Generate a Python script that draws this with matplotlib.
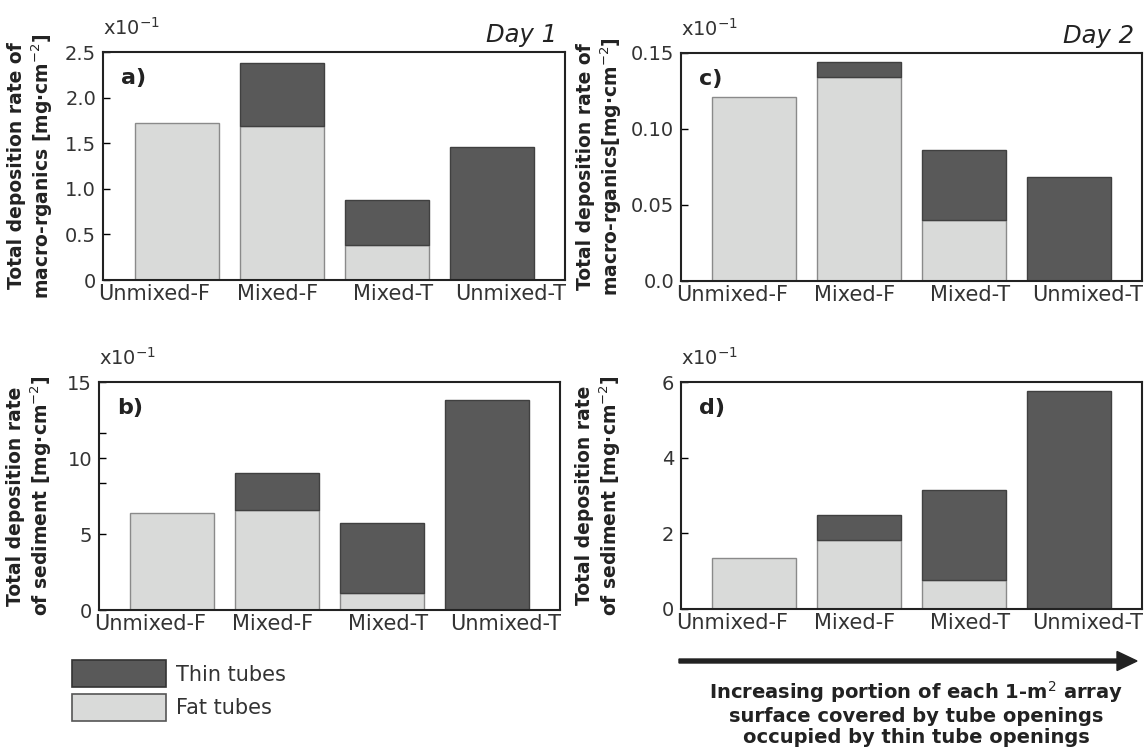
import numpy as np
import matplotlib
matplotlib.use('Agg')
import matplotlib.pyplot as plt
from matplotlib.patches import Patch, FancyArrow

plt.rcParams['font.family'] = 'DejaVu Sans'
plt.rcParams['mathtext.fontset'] = 'dejavusans'

categories = ['Unmixed-F', 'Mixed-F', 'Mixed-T', 'Unmixed-T']

# day 1, macro-organics (x10^-1 mg cm^-2)
org1_fat = [1.72, 1.69, 0.38, 0.0]
org1_thin = [0.0, 0.69, 0.50, 1.46]
# day 2, macro-organics
org2_fat = [0.121, 0.134, 0.040, 0.0]
org2_thin = [0.0, 0.010, 0.046, 0.0685]
# day 1, sediment
sed1_fat = [6.41, 6.61, 1.12, 0.0]
sed1_thin = [0.0, 2.39, 4.61, 13.84]
# day 2, sediment
sed2_fat = [1.34, 1.83, 0.76, 0.0]
sed2_thin = [0.0, 0.66, 2.38, 5.76]

dark = '#595959'
light = '#d9dad9'
txt = '#333333'

W, H = 1146, 747
fig = plt.figure(figsize=(W / 100, H / 100), dpi=100)


def box(l, r, t, b):
    return [l / W, 1 - b / H, (r - l) / W, (b - t) / H]


ax_a = fig.add_axes(box(103, 565, 52, 280))
ax_c = fig.add_axes(box(681, 1142, 53, 281))
ax_b = fig.add_axes(box(99, 560, 382, 610))
ax_d = fig.add_axes(box(681, 1142, 382, 609))

x = np.arange(len(categories))
label_shift = np.array([-0.21, -0.04, 0.06, 0.18])

lab_org = 'Total deposition rate of\nmacro-rganics [mg·cm$^{-2}$]'
lab_org2 = 'Total deposition rate of\nmacro-rganics[mg·cm$^{-2}$]'
lab_sed = 'Total deposition rate\nof sediment [mg·cm$^{-2}$]'

panels = [
    (ax_a, org1_fat, org1_thin, 2.5, [0, 0.5, 1.0, 1.5, 2.0, 2.5],
     ['0', '0.5', '1.0', '1.5', '2.0', '2.5'], lab_org, 'a)', 'Day 1', -0.156),
    (ax_c, org2_fat, org2_thin, 0.15, [0, 0.05, 0.10, 0.15],
     ['0.0', '0.05', '0.10', '0.15'], lab_org2, 'c)', 'Day 2', -0.176),
    (ax_b, sed1_fat, sed1_thin, 15, [0, 5, 10, 15],
     ['0', '5', '10', '15'], lab_sed, 'b)', None, -0.15),
    (ax_d, sed2_fat, sed2_thin, 6, [0, 2, 4, 6],
     ['0', '2', '4', '6'], lab_sed, 'd)', None, -0.178),
]

for ax, fat, thin, top, yt, ytl, ylab, tag, day, lx in panels:
    fat = np.array(fat)
    thin = np.array(thin)
    m = fat > 0
    ax.bar(x[m], fat[m], width=0.8, color=light, edgecolor='#8a8a8a', linewidth=1)
    m = thin > 0
    ax.bar(x[m], thin[m], bottom=fat[m], width=0.8, color=dark,
           edgecolor='#404040', linewidth=1)
    ax.set_xlim(-0.7, 3.7)
    ax.set_ylim(0, top)
    ax.set_yticks(yt)
    ax.set_yticklabels(ytl, fontsize=14, color=txt)
    ax.set_xticks(x + label_shift)
    ax.set_xticklabels(categories, fontsize=15, color=txt)
    ax.tick_params(axis='x', length=0, pad=3)
    ax.tick_params(axis='y', direction='in', length=5, width=1, pad=5)
    for s in ax.spines.values():
        s.set_linewidth(1.5)
        s.set_color('#222222')
    ax.set_ylabel(ylab, fontsize=13.5, fontweight='bold', linespacing=1.2,
                  va='center', color='#222222')
    ax.yaxis.set_label_coords(lx, 0.5)
    ax.text(0.0, 1.075, r'x10$^{-1}$', transform=ax.transAxes, fontsize=14,
            color=txt, ha='left', va='baseline')
    ax.text(0.04, 0.93, tag, transform=ax.transAxes, fontsize=16,
            fontweight='bold', color='#222222', ha='left', va='top')
    if day:
        ax.text(0.983, 1.044, day, transform=ax.transAxes, fontsize=17.5,
                style='italic', color='#222222', ha='right', va='baseline')

# odd leftover ticks on panel b
ax_b.set_yticks([8.33, 11.67], minor=True)
ax_b.tick_params(axis='y', which='minor', direction='in', length=5, width=1)

# legend
handles = [Patch(facecolor=dark, edgecolor='#333333', linewidth=1.2, label='Thin tubes'),
           Patch(facecolor=light, edgecolor='#555555', linewidth=1.2, label='Fat tubes')]
fig.legend(handles=handles, loc='upper left', bbox_to_anchor=(72 / W, 1 - 660 / H),
           frameon=False, fontsize=15, handlelength=4.5, handleheight=1.65,
           labelspacing=0.3, handletextpad=0.5, borderpad=0, borderaxespad=0,
           labelcolor=txt)

# arrow and caption
fig.add_artist(FancyArrow(
    679 / W, 1 - 661 / H, (1117 - 679) / W, 0, width=4 / H,
    head_width=19 / H, head_length=20 / W, length_includes_head=False,
    color='#222222', transform=fig.transFigure))
fig.text(916 / W, 1 - 679 / H,
         'Increasing portion of each 1-m$^{2}$ array\n'
         'surface covered by tube openings\n'
         'occupied by thin tube openings',
         fontsize=14, fontweight='bold', color='#222222', ha='center', va='top',
         linespacing=1.15)

fig.savefig('out.png', dpi=100)
